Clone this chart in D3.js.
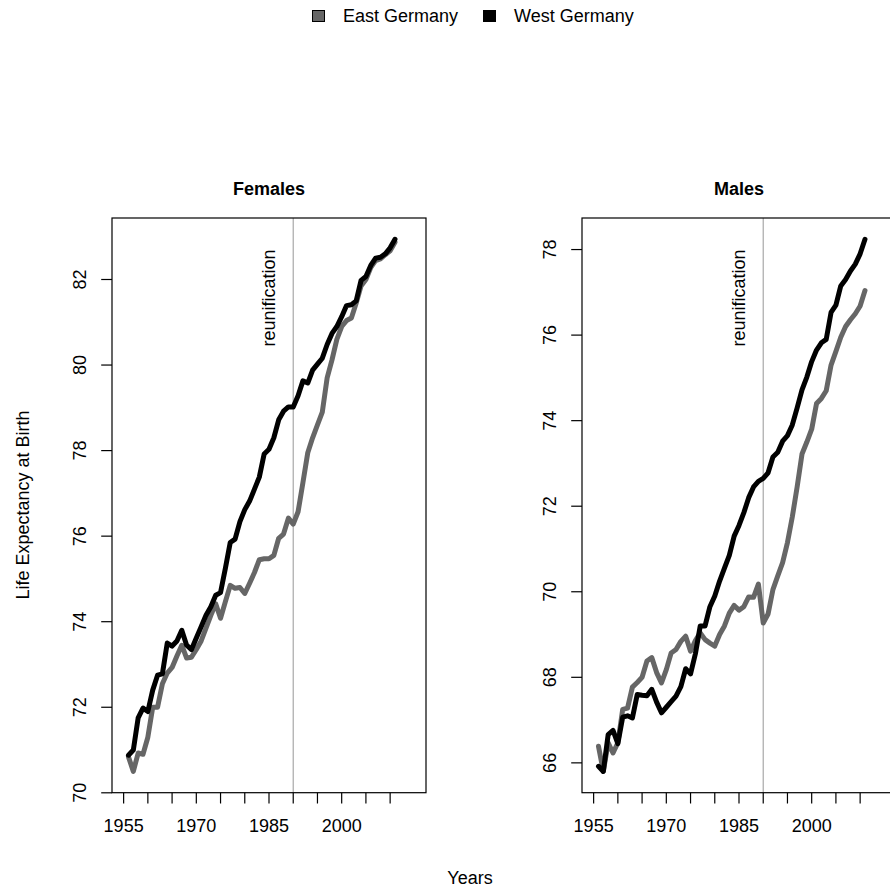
<!DOCTYPE html>
<html>
<head>
<meta charset="utf-8">
<script src="https://cdn.jsdelivr.net/npm/d3@7"></script>
<style>
  html, body { margin: 0; padding: 0; background: #fff; }
  svg { display: block; font-family: "Liberation Sans", Arial, Helvetica, sans-serif; }
</style>
</head>
<body>
<div id="chart"></div>
<script>
const years = [1956, 1957, 1958, 1959, 1960, 1961, 1962, 1963, 1964, 1965,
    1966, 1967, 1968, 1969, 1970, 1971, 1972, 1973, 1974, 1975,
    1976, 1977, 1978, 1979, 1980, 1981, 1982, 1983, 1984, 1985,
    1986, 1987, 1988, 1989, 1990, 1991, 1992, 1993, 1994, 1995,
    1996, 1997, 1998, 1999, 2000, 2001, 2002, 2003, 2004, 2005,
    2006, 2007, 2008, 2009, 2010, 2011];

const eastFemale = [70.84, 70.5, 70.93, 70.9, 71.3, 72.0, 72.0, 72.55, 72.8, 72.93,
    73.2, 73.45, 73.15, 73.17, 73.35, 73.55, 73.85, 74.15, 74.42, 74.08,
    74.47, 74.85, 74.78, 74.8, 74.66, 74.9, 75.15, 75.45, 75.47, 75.47,
    75.55, 75.95, 76.05, 76.42, 76.28, 76.57, 77.25, 77.95, 78.3, 78.6,
    78.9, 79.7, 80.12, 80.6, 80.9, 81.04, 81.1, 81.45, 81.85, 82.0,
    82.28, 82.44, 82.48, 82.58, 82.67, 82.87];

const westFemale = [70.88, 71.0, 71.75, 71.98, 71.9, 72.4, 72.75, 72.78, 73.5, 73.43,
    73.55, 73.8, 73.45, 73.35, 73.62, 73.88, 74.15, 74.35, 74.62, 74.68,
    75.25, 75.85, 75.93, 76.34, 76.62, 76.82, 77.1, 77.38, 77.92, 78.03,
    78.3, 78.72, 78.92, 79.02, 79.02, 79.28, 79.63, 79.58, 79.88, 80.02,
    80.16, 80.48, 80.74, 80.9, 81.13, 81.39, 81.41, 81.5, 81.98, 82.07,
    82.33, 82.5, 82.52, 82.6, 82.74, 82.94];

const eastMale = [66.39, 65.8, 66.47, 66.23, 66.47, 67.25, 67.28, 67.77, 67.88, 68.0,
    68.38, 68.46, 68.11, 67.87, 68.18, 68.57, 68.65, 68.84, 68.96, 68.61,
    68.86, 69.04, 68.88, 68.8, 68.73, 69.0, 69.2, 69.5, 69.68, 69.57,
    69.65, 69.88, 69.87, 70.18, 69.27, 69.48, 70.05, 70.37, 70.68, 71.15,
    71.75, 72.45, 73.22, 73.5, 73.8, 74.4, 74.52, 74.7, 75.3, 75.62,
    75.95, 76.2, 76.36, 76.5, 76.68, 77.04];

const westMale = [65.92, 65.8, 66.66, 66.76, 66.45, 67.07, 67.1, 67.05, 67.6, 67.58,
    67.57, 67.72, 67.42, 67.17, 67.3, 67.43, 67.56, 67.78, 68.2, 68.08,
    68.55, 69.2, 69.2, 69.65, 69.9, 70.25, 70.55, 70.85, 71.3, 71.55,
    71.85, 72.2, 72.45, 72.58, 72.65, 72.78, 73.15, 73.26, 73.52, 73.65,
    73.9, 74.3, 74.72, 75.02, 75.38, 75.65, 75.82, 75.9, 76.53, 76.7,
    77.15, 77.3, 77.5, 77.66, 77.9, 78.24];

const xLimits = [1955, 2015];
const xTicks = [1955, 1960, 1965, 1970, 1975, 1980, 1985, 1990, 1995, 2000, 2005, 2010];
const xTickLabels = [1955, 1970, 1985, 2000];
const femaleTicks = [70, 72, 74, 76, 78, 80, 82];
const maleTicks = [66, 68, 70, 72, 74, 76, 78];
const reunificationYear = 1990;
const seriesNames = ["East Germany", "West Germany"];

const eastColor = "#666666";
const westColor = "#000000";

// original figure was 940 wide, the photo crops it at 890
const width = 890, height = 894;
const panelWidth = 470;
const margin = { top: 218, right: 44, bottom: 101.3, left: 112 };
const lineH = 21.6; // one text line at 18px

const svg = d3.select("#chart").append("svg")
    .attr("width", width)
    .attr("height", height);

// R style range padding of 4%
function padded(ext) {
    const d = (ext[1] - ext[0]) * 0.04;
    return [ext[0] - d, ext[1] + d];
}

function drawPanel(offsetX, title, east, west, yTicks) {
    const pw = panelWidth - margin.left - margin.right;
    const ph = height - margin.top - margin.bottom;

    const g = svg.append("g")
        .attr("transform", `translate(${offsetX + margin.left}, ${margin.top})`);

    const x = d3.scaleLinear().domain(padded(xLimits)).range([0, pw]);
    const y = d3.scaleLinear()
        .domain(padded(d3.extent(east.concat(west))))
        .range([ph, 0]);

    // reunification marker
    g.append("line")
        .attr("x1", x(reunificationYear)).attr("x2", x(reunificationYear))
        .attr("y1", 0).attr("y2", ph)
        .attr("stroke", "#a8a8a8")
        .attr("stroke-width", 1.2);

    g.append("text")
        .attr("transform", `translate(${x(reunificationYear) - 18}, ${298 - margin.top}) rotate(-90)`)
        .attr("text-anchor", "middle")
        .attr("font-size", 18)
        .attr("fill", "#000")
        .text("reunification");

    const line = d3.line()
        .x((d, i) => x(years[i]))
        .y(d => y(d));

    [[east, eastColor], [west, westColor]].forEach(([s, c]) => {
        g.append("path")
            .datum(s)
            .attr("d", line)
            .attr("fill", "none")
            .attr("stroke", c)
            .attr("stroke-width", 5)
            .attr("stroke-linejoin", "round")
            .attr("stroke-linecap", "round");
    });

    // box
    g.append("rect")
        .attr("x", 0).attr("y", 0)
        .attr("width", pw).attr("height", ph)
        .attr("fill", "none")
        .attr("stroke", "#000")
        .attr("stroke-width", 1.2);

    // x axis
    const xa = g.append("g").attr("transform", `translate(0, ${ph})`);
    xa.selectAll("line.tick")
        .data(xTicks)
        .join("line")
        .attr("class", "tick")
        .attr("x1", d => x(d)).attr("x2", d => x(d))
        .attr("y1", 0).attr("y2", lineH * 0.5)
        .attr("stroke", "#000")
        .attr("stroke-width", 1.2);
    xa.selectAll("text")
        .data(xTickLabels)
        .join("text")
        .attr("x", d => x(d))
        .attr("y", lineH * 1.8)
        .attr("text-anchor", "middle")
        .attr("font-size", 18)
        .text(d => d);

    // y axis
    const ya = g.append("g");
    ya.selectAll("line")
        .data(yTicks)
        .join("line")
        .attr("x1", -lineH * 0.5).attr("x2", 0)
        .attr("y1", d => y(d)).attr("y2", d => y(d))
        .attr("stroke", "#000")
        .attr("stroke-width", 1.2);
    ya.selectAll("text")
        .data(yTicks)
        .join("text")
        .attr("transform", d => `translate(${-lineH * 1.2}, ${y(d)}) rotate(-90)`)
        .attr("text-anchor", "middle")
        .attr("font-size", 18)
        .text(d => d);

    // panel title
    g.append("text")
        .attr("x", pw / 2)
        .attr("y", 195 - margin.top)
        .attr("text-anchor", "middle")
        .attr("font-size", 18)
        .attr("font-weight", "bold")
        .text(title);
}

drawPanel(0, "Females", eastFemale, westFemale, femaleTicks);
drawPanel(panelWidth, "Males", eastMale, westMale, maleTicks);

// shared axis titles
svg.append("text")
    .attr("transform", "translate(29, 505) rotate(-90)")
    .attr("text-anchor", "middle")
    .attr("font-size", 18)
    .text("Life Expectancy at Birth");

svg.append("text")
    .attr("x", panelWidth)
    .attr("y", 884)
    .attr("text-anchor", "middle")
    .attr("font-size", 18)
    .text("Years");

// legend on top
const legend = svg.append("g").attr("class", "legend");
const legendItems = [
    { name: seriesNames[0], color: eastColor, x: 312 },
    { name: seriesNames[1], color: westColor, x: 483 }
];
legendItems.forEach(d => {
    legend.append("rect")
        .attr("x", d.x + 0.5).attr("y", 10.5)
        .attr("width", 12).attr("height", 11)
        .attr("fill", d.color)
        .attr("stroke", "#000")
        .attr("stroke-width", 1);
    legend.append("text")
        .attr("x", d.x + 31)
        .attr("y", 22)
        .attr("font-size", 18)
        .text(d.name);
});
</script>
</body>
</html>
